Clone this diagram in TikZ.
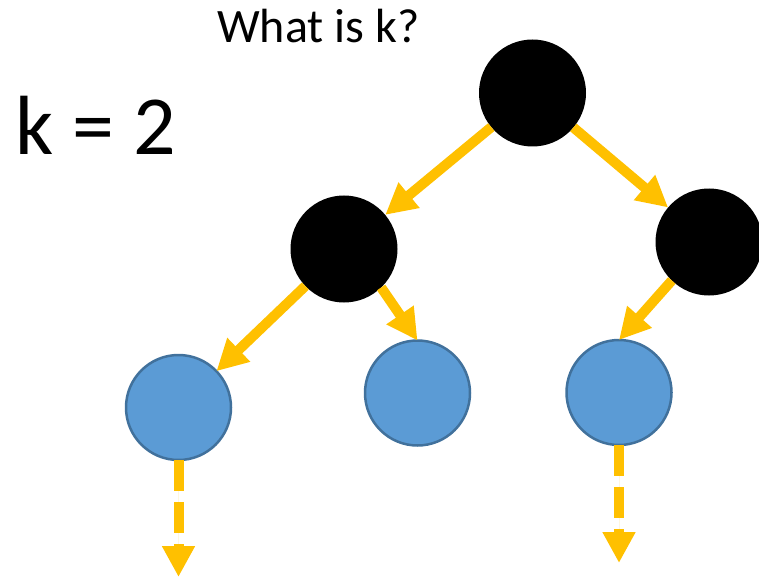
\documentclass[tikz,border=0pt]{standalone}
\usepackage{fontspec}
\setmainfont{Carlito}
\usetikzlibrary{arrows.meta}
\definecolor{gold}{HTML}{FFC000}
\definecolor{bluefill}{HTML}{5B9BD5}
\definecolor{blueline}{HTML}{41719C}
\begin{document}
\begin{tikzpicture}[x=1pt,y=-1pt,
  blacknode/.style={circle,fill=black,inner sep=0pt,outer sep=0pt,minimum size=107pt},
  bluenode/.style={circle,fill=bluefill,draw=blueline,line width=2.5pt,inner sep=0pt,outer sep=0pt,minimum size=105pt},
  goldarrow/.style={draw=gold,line width=10pt,-{Triangle[width=31pt,length=31pt]},fill=gold},
  dasharrow/.style={goldarrow,dash pattern=on 31pt off 11pt}]
\useasboundingbox (0,0) rectangle (759,577);
\node[anchor=base west,inner sep=0pt] (q) at (217,43) {\fontsize{48}{58}\selectfont What is k?};
\node[anchor=base west,inner sep=0pt] (k) at (15,155) {\fontsize{84}{100}\selectfont k = 2};
\node[blacknode] (root) at (532.5,93) {};
\node[blacknode] (lb) at (344,249) {};
\node[blacknode] (rb) at (709,242) {};
\node[bluenode] (lbl) at (178.5,407.5) {};
\node[bluenode] (mbl) at (417.5,393) {};
\node[bluenode] (rbl) at (619,392.5) {};
\coordinate (lend) at (178.5,577);
\coordinate (rend) at (619,563);
\draw[goldarrow] (root) -- (lb);
\draw[goldarrow] (root) -- (rb);
\draw[goldarrow] (lb) -- (lbl);
\draw[goldarrow] (lb.-46) -- (mbl.north);
\draw[goldarrow] (rb.226) -- (rbl.north);
\draw[dasharrow] (lbl.south) -- (lend);
\draw[dasharrow] (rbl.south) -- (rend);
\end{tikzpicture}
\end{document}
